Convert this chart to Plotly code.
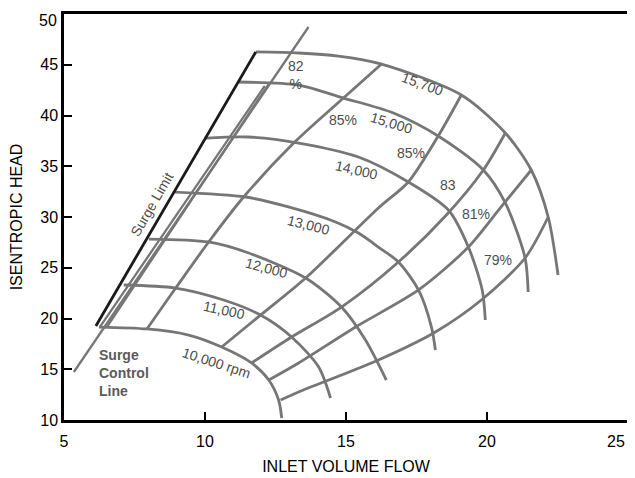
import plotly.graph_objects as go

# ---- speed lines (rpm) : inlet volume flow vs isentropic head ----
speed_names = ["10,000", "11,000", "12,000", "13,000", "14,000", "15,000", "15,700"]
flow_10000 = [6.24, 7.94, 9.42, 10.59, 11.65, 12.26, 12.61, 12.72]
head_10000 = [19.16, 18.97, 18.37, 17.19, 15.62, 13.94, 11.97, 10.20]
flow_11000 = [7.12, 8.96, 10.66, 11.97, 13.07, 14.03, 14.45]
head_11000 = [23.30, 23.00, 21.82, 20.34, 18.18, 15.22, 12.17]
flow_12000 = [8.01, 10.13, 11.55, 13.57, 14.84, 15.69, 16.43]
head_12000 = [27.83, 27.54, 26.45, 23.99, 21.13, 17.88, 13.94]
flow_13000 = [8.93, 11.44, 12.96, 14.63, 15.44, 16.15, 16.86, 17.57, 18.03, 18.17]
head_13000 = [32.46, 31.97, 30.99, 29.51, 28.42, 27.04, 25.57, 22.81, 19.16, 16.90]
flow_14000 = [10.03, 11.55, 13.32, 15.44, 17.21, 18.63, 19.34, 19.83, 19.94]
head_14000 = [37.78, 37.88, 37.29, 35.91, 33.45, 30.69, 27.04, 22.81, 19.85]
flow_15000 = [11.19, 13.32, 14.91, 16.68, 18.27, 19.87, 20.65, 21.35, 21.46]
head_15000 = [43.30, 43.00, 41.72, 40.25, 37.98, 34.63, 31.38, 25.96, 22.61]
flow_15700 = [11.80, 13.32, 14.73, 16.26, 19.09, 20.65, 21.57, 22.17, 22.52]
head_15700 = [46.26, 46.16, 45.86, 45.07, 42.02, 38.28, 34.63, 30.00, 24.29]

# ---- efficiency lines ----
eff_flow_a = [7.94, 8.96, 10.13, 11.37, 13.11, 14.91, 16.26]
eff_head_a = [18.97, 23.00, 27.54, 31.97, 37.19, 41.72, 45.07]
eff_flow_b = [10.59, 11.97, 13.57, 16.15, 17.21, 18.27, 19.09]
eff_head_b = [17.19, 20.34, 23.99, 30.89, 33.45, 37.98, 42.02]
eff_flow_c = [11.65, 13.07, 14.84, 16.86, 18.56, 19.87, 20.65]
eff_head_c = [15.62, 18.18, 21.13, 25.57, 30.20, 34.63, 38.28]
eff_flow_d = [12.26, 13.32, 15.34, 17.57, 19.34, 20.50, 21.57]
eff_head_d = [13.94, 15.62, 19.16, 22.81, 27.04, 30.99, 34.63]
eff_flow_e = [12.68, 13.32, 16.15, 18.17, 19.80, 21.35, 22.17]
eff_head_e = [11.97, 12.76, 15.91, 18.67, 21.82, 25.96, 30.00]

# ---- surge lines ----
surge_limit_flow = [6.13, 11.80]
surge_limit_head = [19.26, 46.26]
surge_control_flow = [5.35, 13.67]
surge_control_head = [14.73, 48.72]
surge_g1_flow = [6.27, 12.12]
surge_g1_head = [19.16, 42.91]
surge_g2_flow = [6.52, 12.26]
surge_g2_head = [19.16, 43.10]

# ---- labels ----
label_text = ["15,700", "15,000", "85%", "85%", "14,000", "83", "81%", "79%",
              "13,000", "12,000", "11,000", "10,000 rpm", "82<br>%", "Surge Limit"]
label_x = [17.71, 16.61, 14.91, 17.32, 15.37, 18.63, 19.62, 20.40,
           13.67, 12.19, 10.66, 10.42, 13.21, 8.12]
label_y = [43.10, 39.26, 39.56, 36.31, 34.63, 33.15, 30.30, 25.76,
           29.21, 24.98, 20.84, 15.62, 43.99, 31.30]
label_angle = [20, 17, 0, 0, 13, 0, 0, 0, 14, 15, 12, 18, 0, -60]

scl_text = "Surge<br>Control<br>Line"
scl_x = 6.17
scl_y = 14.63

x_ticks = [5, 10, 15, 20, 25]
x_tick_text = ["5", "10", "15", "20", ""]
last_x_tick = "25"
y_ticks = [10, 15, 20, 25, 30, 35, 40, 45, 50]
y_tick_text = ["10", "15", "20", "25", "30", "35", "40", "45", ""]
top_y_tick = "50"

GRAY = "#767676"
TXT = "#4d4d4d"
FONT = "Liberation Sans, Arial"

fig = go.Figure()

speeds = [(flow_10000, head_10000), (flow_11000, head_11000), (flow_12000, head_12000),
          (flow_13000, head_13000), (flow_14000, head_14000), (flow_15000, head_15000),
          (flow_15700, head_15700)]
for (fx, fy), name in zip(speeds, speed_names):
    fig.add_trace(go.Scatter(x=fx, y=fy, mode="lines", name=name,
                             line=dict(color=GRAY, width=2.8, shape="spline", smoothing=0.8),
                             hoverinfo="skip", showlegend=False))

effs = [(eff_flow_a, eff_head_a), (eff_flow_b, eff_head_b), (eff_flow_c, eff_head_c),
        (eff_flow_d, eff_head_d), (eff_flow_e, eff_head_e)]
for fx, fy in effs:
    fig.add_trace(go.Scatter(x=fx, y=fy, mode="lines",
                             line=dict(color=GRAY, width=2.8, shape="spline", smoothing=0.8),
                             hoverinfo="skip", showlegend=False))

for fx, fy in [(surge_control_flow, surge_control_head), (surge_g1_flow, surge_g1_head),
               (surge_g2_flow, surge_g2_head)]:
    fig.add_trace(go.Scatter(x=fx, y=fy, mode="lines",
                             line=dict(color=GRAY, width=2.3),
                             hoverinfo="skip", showlegend=False))

fig.add_trace(go.Scatter(x=surge_limit_flow, y=surge_limit_head, mode="lines",
                         line=dict(color="#1a1a1a", width=2.8),
                         hoverinfo="skip", showlegend=False))

for t, x, y, a in zip(label_text, label_x, label_y, label_angle):
    fig.add_annotation(x=x, y=y, text=t, textangle=a, showarrow=False,
                       font=dict(family=FONT, size=14, color=TXT))

fig.add_annotation(x=scl_x, y=scl_y, text="<b>" + scl_text.replace("<br>", "</b><br><b>") + "</b>",
                   showarrow=False, xanchor="left", align="left",
                   font=dict(family=FONT, size=14, color="#5a5a5a"))

# edge tick labels placed so they stay inside the visible page
fig.add_annotation(x=1, y=0, xref="paper", yref="paper", text=last_x_tick,
                   showarrow=False, xanchor="right", yanchor="middle",
                   xshift=-1, yshift=-21,
                   font=dict(family=FONT, size=16, color="black"))
fig.add_annotation(x=0, y=1, xref="paper", yref="paper", text=top_y_tick,
                   showarrow=False, xanchor="right", yanchor="top",
                   xshift=-5, yshift=4,
                   font=dict(family=FONT, size=16, color="black"))

axis_common = dict(showgrid=False, zeroline=False, showline=True, mirror=True,
                   linecolor="black", linewidth=2.5, ticks="inside", ticklen=8,
                   tickwidth=2, tickcolor="black", automargin=False,
                   ticklabeloverflow="allow",
                   tickfont=dict(family=FONT, size=16, color="black"))

# the page adds an 8px body margin, so the figure is sized to the visible area
fig.update_layout(
    width=627, height=470,
    margin=dict(l=56, r=7, t=6, b=58),
    paper_bgcolor="white", plot_bgcolor="white",
    xaxis=dict(range=[5, 25], tickvals=x_ticks, ticktext=x_tick_text, ticklabelstandoff=5,
               title=dict(text="INLET VOLUME FLOW", standoff=12,
                          font=dict(family=FONT, size=16, color="black")),
               **axis_common),
    yaxis=dict(range=[10, 50], tickvals=y_ticks, ticktext=y_tick_text,
               title=dict(text="ISENTROPIC HEAD", standoff=14,
                          font=dict(family=FONT, size=16, color="black")),
               **axis_common),
)

fig.write_html("out.html")
